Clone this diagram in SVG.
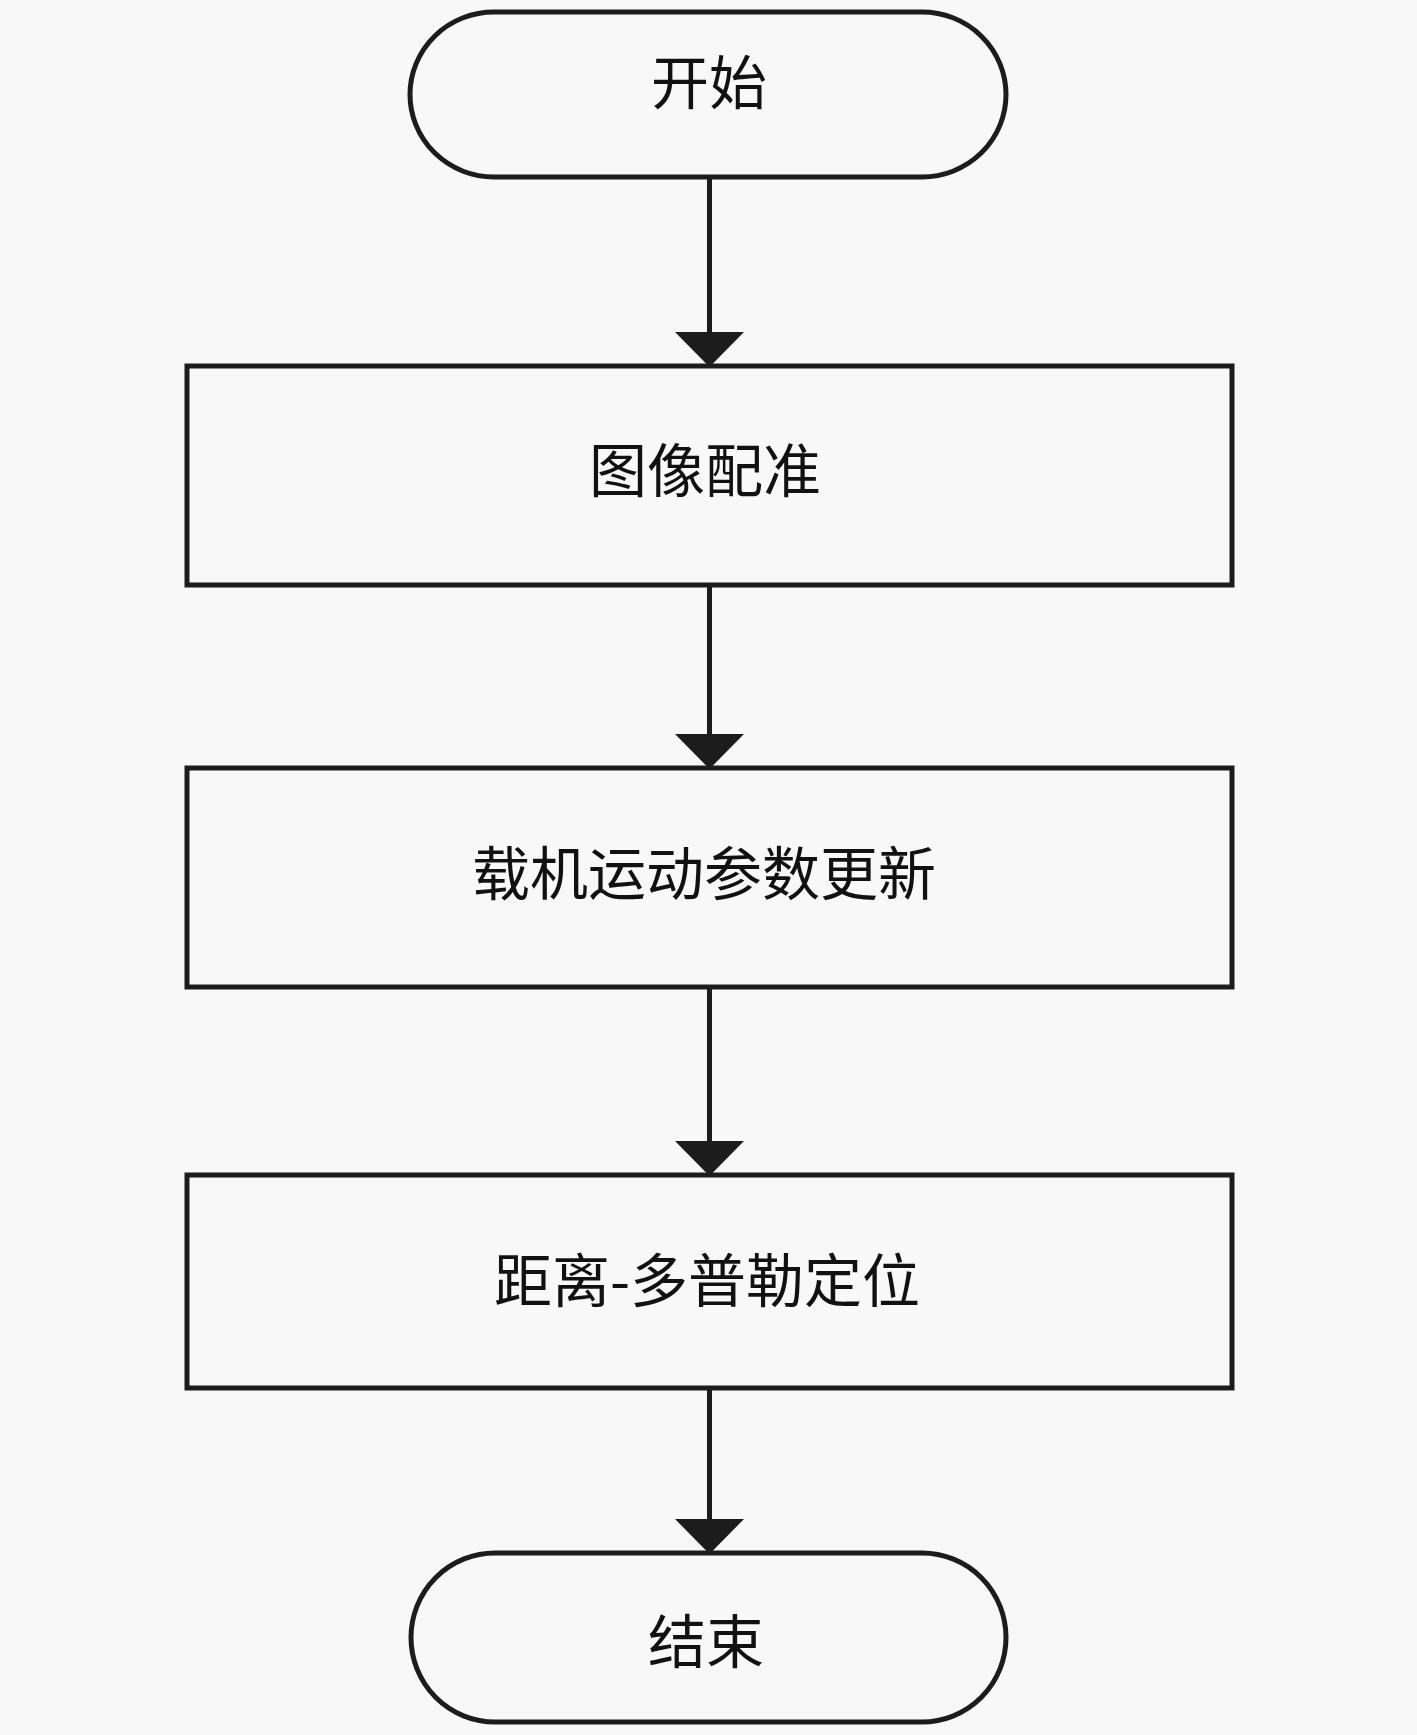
<svg xmlns="http://www.w3.org/2000/svg" width="1417" height="1735" viewBox="0 0 1417 1735">
<style>
.shape{fill:#f8f8f8;stroke:#1c1c1c;stroke-width:5}
.lbl{font-family:"Noto Sans CJK SC","Noto Sans",sans-serif;font-size:58px;fill:#111;text-anchor:middle;dominant-baseline:central}
.conn{stroke:#1c1c1c;stroke-width:5;fill:none}
.head{fill:#1c1c1c}
</style>
<rect width="1417" height="1735" fill="#f8f8f8"/>
<g id="start">
<rect class="shape" x="410" y="12" width="596" height="165" rx="84" ry="82.5"/>
<text class="lbl" x="709" y="79">开始</text>
</g>
<g id="n1">
<rect class="shape" x="187" y="366" width="1045" height="219"/>
<text class="lbl" x="705" y="467">图像配准</text>
</g>
<g id="n2">
<rect class="shape" x="187" y="768" width="1045" height="219"/>
<text class="lbl" x="704" y="870">载机运动参数更新</text>
</g>
<g id="n3">
<rect class="shape" x="187" y="1175" width="1045" height="213"/>
<text class="lbl" x="707" y="1277">距离-多普勒定位</text>
</g>
<g id="end">
<rect class="shape" x="411" y="1553" width="595" height="169" rx="84" ry="84.5"/>
<text class="lbl" x="706" y="1638">结束</text>
</g>
<g id="connectors">
<line class="conn" x1="709.5" y1="177" x2="709.5" y2="340"/>
<polygon class="head" points="675,332 744,332 709.5,367"/>
<line class="conn" x1="709.5" y1="585" x2="709.5" y2="742"/>
<polygon class="head" points="675,734 744,734 709.5,769"/>
<line class="conn" x1="709.5" y1="987" x2="709.5" y2="1149"/>
<polygon class="head" points="675,1141 744,1141 709.5,1176"/>
<line class="conn" x1="709.5" y1="1388" x2="709.5" y2="1527"/>
<polygon class="head" points="675,1519 744,1519 709.5,1554"/>
</g>
</svg>
